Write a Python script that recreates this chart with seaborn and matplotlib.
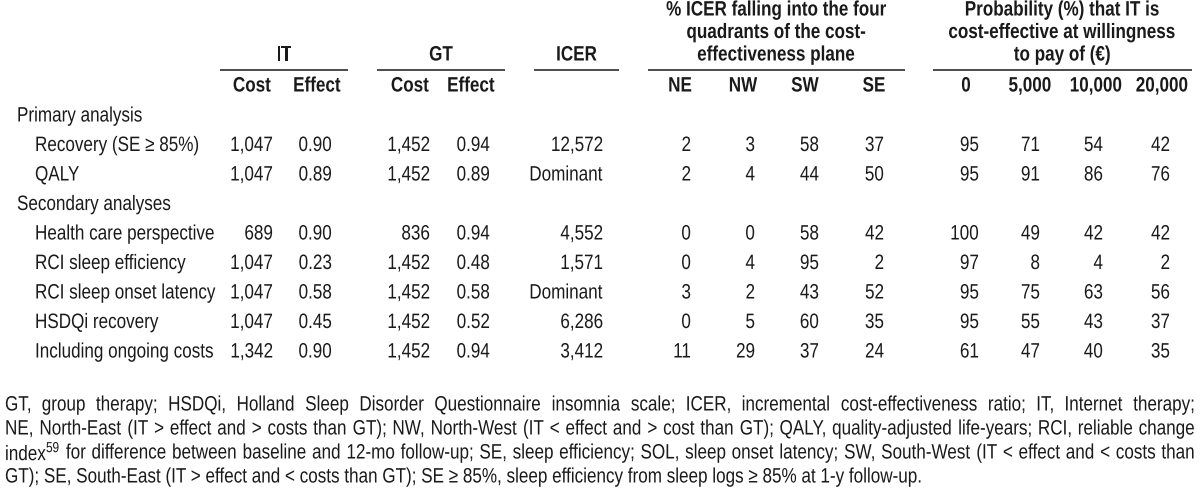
import pandas as pd
from matplotlib import pyplot as plt
from matplotlib import font_manager
from matplotlib.patheffects import AbstractPathEffect
from matplotlib.transforms import Affine2D, Bbox
import seaborn as sns

# table content
sections = ["Primary analysis", "Secondary analyses"]
analyses = ["Recovery (SE \u2265 85%)", "QALY", "Health care perspective", "RCI sleep efficiency",
            "RCI sleep onset latency", "HSDQi recovery", "Including ongoing costs"]
section_of = [0, 0, 1, 1, 1, 1, 1]
it_cost = [1047, 1047, 689, 1047, 1047, 1047, 1342]
it_effect = [0.90, 0.89, 0.90, 0.23, 0.58, 0.45, 0.90]
gt_cost = [1452, 1452, 836, 1452, 1452, 1452, 1452]
gt_effect = [0.94, 0.89, 0.94, 0.48, 0.58, 0.52, 0.94]
icer = [12572, "Dominant", 4552, 1571, "Dominant", 6286, 3412]
ne = [2, 2, 0, 0, 3, 0, 11]
nw = [3, 4, 0, 4, 2, 5, 29]
sw = [58, 44, 58, 95, 43, 60, 37]
se = [37, 50, 42, 2, 52, 35, 24]
wtp = [0, 5000, 10000, 20000]
p0 = [95, 95, 100, 97, 95, 95, 61]
p5000 = [71, 91, 49, 8, 75, 55, 47]
p10000 = [54, 86, 42, 4, 63, 43, 40]
p20000 = [42, 76, 42, 2, 56, 37, 35]

footnote = [
    "GT, group therapy; HSDQi, Holland Sleep Disorder Questionnaire insomnia scale; ICER, incremental cost-effectiveness ratio; IT, Internet therapy;",
    "NE, North-East (IT > effect and > costs than GT); NW, North-West (IT < effect and > cost than GT); QALY, quality-adjusted life-years; RCI, reliable change",
    "index$^{\\mathrm{59}}$ for difference between baseline and 12-mo follow-up; SE, sleep efficiency; SOL, sleep onset latency; SW, South-West (IT < effect and < costs than",
    "GT); SE, South-East (IT > effect and < costs than GT); SE \u2265 85%, sleep efficiency from sleep logs \u2265 85% at 1-y follow-up.",
]

df = pd.DataFrame({
    "analysis": analyses, "section": section_of,
    "it_cost": it_cost, "it_effect": it_effect, "gt_cost": gt_cost, "gt_effect": gt_effect,
    "icer": icer, "NE": ne, "NW": nw, "SW": sw, "SE": se,
    "p0": p0, "p5000": p5000, "p10000": p10000, "p20000": p20000,
})

sns.set_theme(style="white")
names = {f.name for f in font_manager.fontManager.ttflist}
narrow = "Liberation Sans Narrow" in names
face = "Liberation Sans Narrow" if narrow else "Liberation Sans"
plt.rcParams["font.family"] = [face, "DejaVu Sans"]
plt.rcParams["mathtext.fontset"] = "custom"
plt.rcParams["mathtext.rm"] = face
fs = 15
sx = 1.0 if narrow else 0.82   # squeeze regular Arial-metric font to narrow width
ink = "#1a1a1a"


class Squeeze(AbstractPathEffect):
    # horizontally condense glyphs around the anchor x (display coords)
    def __init__(self, xa, sx):
        super().__init__()
        self.xa = xa
        self.sx = sx

    def draw_path(self, renderer, gc, tpath, affine, rgbFace=None):
        tr = Affine2D().translate(-self.xa, 0).scale(self.sx, 1).translate(self.xa, 0)
        renderer.draw_path(gc, tpath, affine + tr, rgbFace)


fig = plt.figure(figsize=(12, 4.92), dpi=100)
ax = fig.add_axes([0, 0, 1, 1])
ax.set_xlim(0, 1200)
ax.set_ylim(492, 0)
ax.axis("off")


def put(x, y, s, ha="left", bold=False):
    xa = ax.transData.transform((x, y))[0]
    t = ax.text(x, y, s, ha=ha, va="center", fontsize=fs, color=ink,
                fontweight="bold" if bold else "normal",
                path_effects=[Squeeze(xa, sx)])
    # report the condensed extent, matching what is drawn
    orig = t.get_window_extent

    def extent(renderer=None, dpi=None, _o=orig, _xa=xa):
        bb = _o(renderer, dpi)
        return Bbox([[_xa + (bb.x0 - _xa) * sx, bb.y0], [_xa + (bb.x1 - _xa) * sx, bb.y1]])
    t.get_window_extent = extent
    return t


# column spec: (column, right edge, formatter)
num = lambda v: f"{v:,}" if not isinstance(v, str) else v
dec = lambda v: f"{v:.2f}"
columns = [
    ("it_cost", 273, num), ("it_effect", 332, dec),
    ("gt_cost", 430, num), ("gt_effect", 490, dec),
    ("icer", 603, num),
    ("NE", 691, num), ("NW", 755, num), ("SW", 819, num), ("SE", 884, num),
    ("p0", 979, num), ("p5000", 1040, num), ("p10000", 1103, num), ("p20000", 1170, num),
]

# header groups, each with its rule
groups = [
    ("IT", 220, 348), ("GT", 377, 505), ("ICER", 534, 619),
    ("% ICER falling into the four\nquadrants of the cost-\neffectiveness plane", 648, 905),
    ("Probability (%) that IT is\ncost-effective at willingness\nto pay of (\u20ac)", 933, 1192),
]
for label, x0, x1 in groups:
    lines = label.split("\n")
    for k, ln in enumerate(lines):
        put((x0 + x1) / 2, 55 - 22.5 * (len(lines) - 1 - k), ln, ha="center", bold=True)
    ax.plot([x0, x1], [70, 70], color=ink, lw=1.1, solid_capstyle="butt")

subheads = [("Cost", 252), ("Effect", 317), ("Cost", 410), ("Effect", 471),
            ("NE", 680), ("NW", 743), ("SW", 805), ("SE", 874)]
subheads += [(f"{w:,}", x) for w, x in zip(wtp, [966, 1030, 1096, 1162])]
for label, x in subheads:
    put(x, 86, label, ha="center", bold=True)

# body rows
y = 116
step = 29.5
for s, sec in enumerate(sections):
    put(17, y, sec)
    y += step
    for _, row in df[df["section"] == s].iterrows():
        put(35, y, row["analysis"])
        for col, xr, fmt in columns:
            put(xr, y, fmt(row[col]), ha="right")
        y += step

# justified footnote
renderer = fig.canvas.get_renderer()
for i, line in enumerate(footnote):
    ly = 405 + i * 24
    if i == len(footnote) - 1:
        put(5, ly, line)
        continue
    words = line.split(" ")
    probes = [ax.text(0, ly, w, fontsize=fs) for w in words]
    widths = [t.get_window_extent(renderer).width * sx for t in probes]
    for t in probes:
        t.remove()
    gap = (1195 - 5 - sum(widths)) / (len(words) - 1)
    x = 5
    for w, wd in zip(words, widths):
        put(x, ly, w)
        x += wd + gap

plt.savefig("out.png", dpi=100)
